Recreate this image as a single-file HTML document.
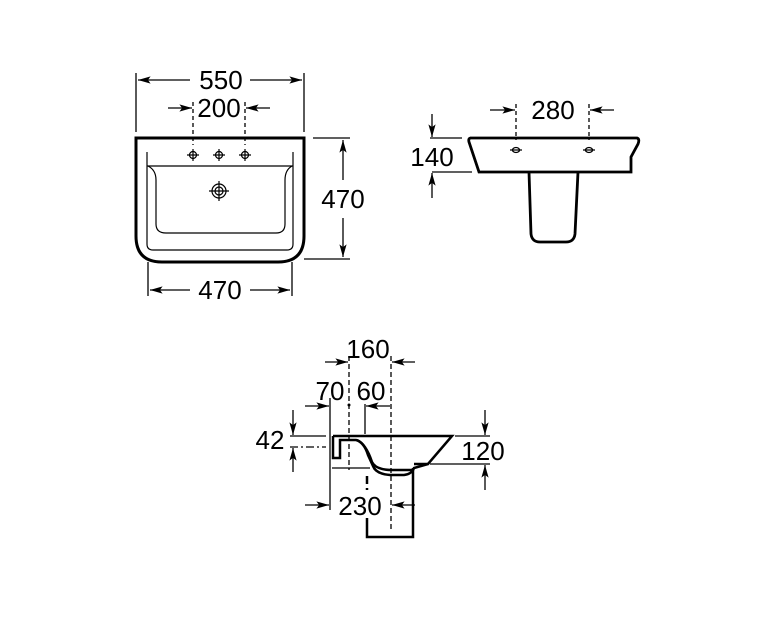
<!DOCTYPE html>
<html><head><style>html,body{margin:0;padding:0;background:#fff}svg{display:block}</style></head><body>
<svg width="760" height="620" viewBox="0 0 760 620" xmlns="http://www.w3.org/2000/svg" font-family="Liberation Sans, sans-serif" font-size="26" fill="none" stroke="#000">
<defs><marker id="a" viewBox="0 0 14 10" refX="14" refY="5" markerWidth="14" markerHeight="9" orient="auto" markerUnits="userSpaceOnUse"><path d="M0,1 L14,5 L0,9 L3,5 Z" fill="#000" stroke="none"/></marker></defs>
<g stroke-width="1.3">
<line x1="136" y1="73" x2="136" y2="132"/><line x1="304" y1="73" x2="304" y2="132"/>
<line x1="190" y1="80" x2="138" y2="80" marker-end="url(#a)"/><line x1="250" y1="80" x2="302" y2="80" marker-end="url(#a)"/>
<line x1="193" y1="102" x2="193" y2="145" stroke-dasharray="4,3"/><line x1="245" y1="102" x2="245" y2="145" stroke-dasharray="4,3"/>
<line x1="168" y1="108" x2="192" y2="108" marker-end="url(#a)"/><line x1="270" y1="108" x2="246" y2="108" marker-end="url(#a)"/>
<line x1="313" y1="138" x2="350" y2="138"/><line x1="304" y1="259" x2="350" y2="259"/>
<line x1="343" y1="180" x2="343" y2="140" marker-end="url(#a)"/><line x1="343" y1="218" x2="343" y2="257" marker-end="url(#a)"/>
<line x1="148" y1="262" x2="148" y2="296"/><line x1="292" y1="262" x2="292" y2="296"/>
<line x1="190" y1="290" x2="150" y2="290" marker-end="url(#a)"/><line x1="250" y1="290" x2="290" y2="290" marker-end="url(#a)"/>
</g>
<path d="M136,138 H304 V236 Q304,262 278,262 H162 Q136,262 136,236 Z" stroke-width="3"/>
<g stroke-width="1.2">
<path d="M147,152 V244 Q147,250 153,250 H287 Q293,250 293,244 V152"/>
<line x1="147" y1="166" x2="293" y2="166"/>
<path d="M148,166 Q156,170 156,180 V224 Q156,233 166,233 H276 Q285,233 285,224 V180 Q285,170 292,166"/>
<circle cx="193" cy="155" r="3.5"/><circle cx="219" cy="155" r="3.5"/><circle cx="245" cy="155" r="3.5"/>
<path d="M187,155h12M193,149v12M213,155h12M219,149v12M239,155h12M245,149v12"/>
<circle cx="219" cy="191" r="7"/><circle cx="219" cy="191" r="4"/><path d="M209,191h20M219,181v20"/>
</g>
<g stroke-width="1.3">
<line x1="516" y1="104" x2="516" y2="140" stroke-dasharray="4,3"/><line x1="589" y1="104" x2="589" y2="140" stroke-dasharray="4,3"/>
<line x1="490" y1="110" x2="515" y2="110" marker-end="url(#a)"/><line x1="614" y1="110" x2="590" y2="110" marker-end="url(#a)"/>
<line x1="430" y1="138" x2="462" y2="138"/><line x1="432" y1="172" x2="472" y2="172"/>
<line x1="432" y1="114" x2="432" y2="137" marker-end="url(#a)"/><line x1="432" y1="198" x2="432" y2="173" marker-end="url(#a)"/>
<ellipse cx="516" cy="150" rx="3.5" ry="2.5"/><ellipse cx="589" cy="150" rx="3.5" ry="2.5"/>
<path d="M510,150h12M583,150h12"/>
</g>
<path d="M470,138 H637 Q640,139 638,144 L631,157 V172 H479 L469,142 Q468,138 471,138 Z" stroke-width="2.8"/>
<path d="M529,172 L531,234 Q532,242 540,242 H566 Q574,242 575,234 L578,172" stroke-width="2.8"/>
<g stroke-width="1.3">
<line x1="349" y1="356" x2="349" y2="470" stroke-dasharray="5,3"/>
<line x1="391" y1="356" x2="391" y2="530" stroke-dasharray="5,3"/>
<line x1="325" y1="362" x2="348" y2="362" marker-end="url(#a)"/><line x1="415" y1="362" x2="392" y2="362" marker-end="url(#a)"/>
<line x1="330" y1="398" x2="330" y2="510"/>
<line x1="365" y1="404" x2="365" y2="434"/>
<line x1="305" y1="406" x2="329" y2="406" marker-end="url(#a)"/><line x1="390" y1="406" x2="366" y2="406" marker-end="url(#a)"/>
<line x1="290" y1="436" x2="326" y2="436"/><line x1="290" y1="447" x2="326" y2="447" stroke-dasharray="8,3,2,3"/>
<line x1="293" y1="410" x2="293" y2="435" marker-end="url(#a)"/><line x1="293" y1="472" x2="293" y2="448" marker-end="url(#a)"/>
<line x1="455" y1="436" x2="490" y2="436"/><line x1="430" y1="464" x2="490" y2="464"/>
<line x1="485" y1="410" x2="485" y2="435" marker-end="url(#a)"/><line x1="485" y1="490" x2="485" y2="465" marker-end="url(#a)"/>
<line x1="305" y1="505" x2="329" y2="505" marker-end="url(#a)"/><line x1="415" y1="505" x2="392" y2="505" marker-end="url(#a)"/>
<line x1="332" y1="468" x2="370" y2="468"/>
</g>
<g stroke-width="2.5">
<path d="M333,436 H452 L428,464 H414"/>
<path d="M333,436 V458 H340 V440 H356 Q364,442 368,455 L373,466 Q376,474 390,475 H404 Q412,474 414,468 L428,464"/>
<path d="M357,440 Q366,444 372,462 Q376,470 392,470 H412"/>
<path d="M413,468 V537 H367 V508"/>
<path d="M367,476 V500" stroke-dasharray="8,4"/>
</g>
<circle cx="349" cy="405" r="1.5" fill="#000" stroke="none"/>
<g stroke="none"><rect x="340" y="490" width="42" height="28" fill="#fff"/></g>
<g fill="#000" stroke="none" text-anchor="middle">
<text x="221" y="89">550</text><text x="219" y="117">200</text>
<text x="343" y="208">470</text><text x="220" y="299">470</text>
<text x="553" y="119">280</text><text x="432" y="166">140</text>
<text x="368" y="358">160</text><text x="330" y="400">70</text><text x="371" y="400">60</text>
<text x="270" y="449">42</text><text x="483" y="460">120</text><text x="360" y="515">230</text>
</g>
</svg>
</body></html>
